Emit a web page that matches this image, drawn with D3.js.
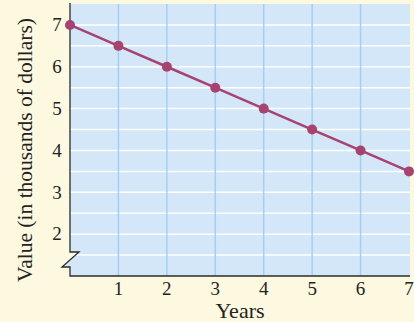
<!DOCTYPE html>
<html><head><meta charset="utf-8">
<script src="https://cdn.jsdelivr.net/npm/d3@7"></script>
<style>
html,body{margin:0;padding:0;background:#fdf9e0;}
svg{display:block;font-family:"Liberation Serif","Times New Roman",serif;}
</style></head><body>
<svg id="c" width="414" height="322"></svg>
<script>
const years = [0, 1, 2, 3, 4, 5, 6, 7];
const values = [7, 6.5, 6, 5.5, 5, 4.5, 4, 3.5];
const xTicks = [1, 2, 3, 4, 5, 6, 7];
const yTicks = [2, 3, 4, 5, 6, 7];
const gridY = [1.5, 2, 2.5, 3, 3.5, 4, 4.5, 5, 5.5, 6, 6.5, 7];

const svg = d3.select("#c");
const x = d3.scaleLinear().domain([0, 7]).range([70, 409]);
const y = d3.scaleLinear().domain([1, 7.5]).range([276, 4]);
const xR = 410;

// plot background with break notch
const bg = d3.path();
bg.moveTo(x(0), y(7.5));
bg.lineTo(xR, y(7.5));
bg.lineTo(xR, y(1));
bg.lineTo(x(0), y(1));
bg.lineTo(x(0), 267);
bg.lineTo(62, 267);
bg.lineTo(79, 252);
bg.lineTo(x(0), 252);
bg.closePath();
svg.append("path").attr("d", bg.toString()).attr("fill", "#d3e7f8");

// horizontal white grid
svg.append("g").selectAll("line").data(gridY).join("line")
  .attr("x1", x(0)).attr("x2", xR)
  .attr("y1", d => y(d)).attr("y2", d => y(d))
  .attr("stroke", "#ffffff").attr("stroke-width", 1.5);

// vertical blue grid
svg.append("g").selectAll("line").data([1,2,3,4,5,6]).join("line")
  .attr("x1", d => x(d)).attr("x2", d => x(d))
  .attr("y1", y(7.5)).attr("y2", y(1))
  .attr("stroke", "#a6cfee").attr("stroke-width", 1.5);

// axes
const ax = d3.path();
ax.moveTo(x(0), y(7.5) - 1);
ax.lineTo(x(0), 252);
ax.lineTo(79, 252);
ax.lineTo(62, 267);
ax.lineTo(x(0), 267);
ax.lineTo(x(0), y(1));
ax.lineTo(xR, y(1));
svg.append("path").attr("d", ax.toString()).attr("fill", "none")
  .attr("stroke", "#2b2b2b").attr("stroke-width", 1.3);

// tick labels
svg.append("g").selectAll("text").data(yTicks).join("text")
  .attr("x", 57).attr("y", d => y(d)).attr("dy", "0.33em")
  .attr("text-anchor", "middle").attr("font-size", 19).attr("fill", "#222")
  .text(d => d);
svg.append("g").selectAll("text").data(xTicks).join("text")
  .attr("x", d => x(d)).attr("y", 295)
  .attr("text-anchor", "middle").attr("font-size", 19).attr("fill", "#222")
  .text(d => d);

// titles
svg.append("text").attr("x", 240).attr("y", 318)
  .attr("text-anchor", "middle").attr("font-size", 22).attr("fill", "#222").text("Years");
svg.append("text").attr("transform", "translate(32,150) rotate(-90)")
  .attr("text-anchor", "middle").attr("font-size", 21.5).attr("fill", "#222")
  .text("Value (in thousands of dollars)");

// line and points
const line = d3.line().x((d, i) => x(years[i])).y(d => y(d));
svg.append("path").datum(values).attr("d", line).attr("fill", "none")
  .attr("stroke", "#a64371").attr("stroke-width", 2.5);
svg.append("g").selectAll("circle").data(values).join("circle")
  .attr("cx", (d, i) => x(years[i])).attr("cy", d => y(d)).attr("r", 5)
  .attr("fill", "#a64371");
</script>
</body></html>
